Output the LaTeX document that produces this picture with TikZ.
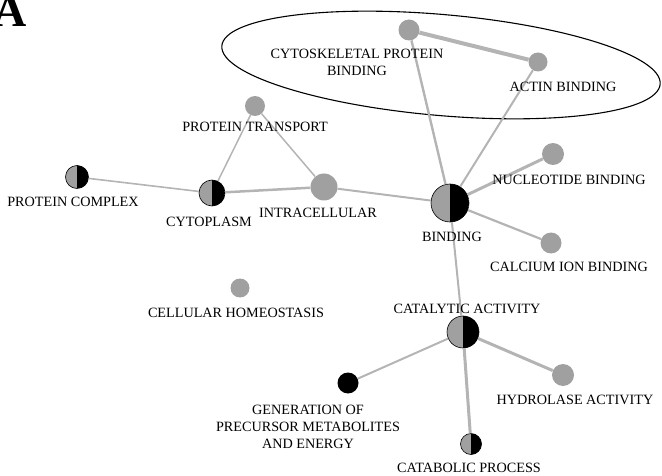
\documentclass[tikz,border=0pt]{standalone}
\usepackage{fontspec}
\setmainfont{Liberation Serif}
\usepackage{tikz}
\usepackage{xcolor}
\definecolor{termgray}{RGB}{160,160,160}
\definecolor{linkgray}{RGB}{180,180,180}

\begin{document}
\begin{tikzpicture}[x=1pt, y=-1pt,
        term/.style={circle, fill=termgray, inner sep=0pt, minimum size=#1},
        halfterm/.style={term=#1, draw=black, line width=0.6pt,
            path picture={\fill[black] (path picture bounding box.north) rectangle (path picture bounding box.south east);}},
        golabel/.style={font=\fontsize{14.2}{17}\selectfont, inner sep=0pt, align=center},
        link/.style={draw=linkgray, line width=#1}]
        \useasboundingbox (0,0) rectangle (662,476);
        % Panel letter
        \node[anchor=base east, inner sep=0pt, font=\fontsize{46}{46}\selectfont\bfseries] (panel) at (27,27) {A};
        % Cluster outline
        \draw[line width=1.1pt, rotate around={-5:(441,65)}] (441,65) ellipse [x radius=220pt, y radius=50.5pt];
        % GO terms
        \node[term=21] (cytosk) at (409,30) {};
        \node[term=19] (actin) at (538,62) {};
        \node[term=20] (transport) at (255,106) {};
        \node[halfterm=23] (complex) at (77,177) {};
        \node[halfterm=26] (cytoplasm) at (212,193) {};
        \node[term=27] (intracell) at (324,187) {};
        \node[halfterm=38] (binding) at (450,203) {};
        \node[term=22] (nucleotide) at (553,154) {};
        \node[term=21] (calcium) at (551,243) {};
        \node[term=19] (homeo) at (240,288) {};
        \node[halfterm=32] (catalytic) at (463,332) {};
        \node[term=21, fill=black] (generation) at (348,383) {};
        \node[term=22] (hydrolase) at (563,375) {};
        \node[halfterm=21] (catabolic) at (471,444) {};
        % Links between terms
        \foreach \a/\b/\w in {cytosk/actin/4, cytosk/binding/2.4, actin/binding/2,
                transport/cytoplasm/1.5, transport/intracell/1.5, complex/cytoplasm/1.6,
                cytoplasm/intracell/2.5, intracell/binding/2, binding/nucleotide/3,
                binding/calcium/2.2, binding/catalytic/2, catalytic/generation/2,
                catalytic/hydrolase/3, catalytic/catabolic/3} {
            \draw[link=\w] (\a) -- (\b);
        }
        % Term labels
        \node[golabel] (lcytosk) at (357,62) {CYTOSKELETAL PROTEIN\\BINDING};
        \node[golabel, anchor=base] (lactin) at (563,92) {ACTIN BINDING};
        \node[golabel, anchor=base] (ltransport) at (255,132) {PROTEIN TRANSPORT};
        \node[golabel, anchor=base] (lcomplex) at (73,207) {PROTEIN COMPLEX};
        \node[golabel, anchor=base] (lcytoplasm) at (209,227) {CYTOPLASM};
        \node[golabel, anchor=base] (lintracell) at (318,218) {INTRACELLULAR};
        \node[golabel, anchor=base] (lbinding) at (452,242) {BINDING};
        \node[golabel, anchor=base] (lnucleotide) at (569,185) {NUCLEOTIDE BINDING};
        \node[golabel, anchor=base] (lcalcium) at (569,272) {CALCIUM ION BINDING};
        \node[golabel, anchor=base] (lhomeo) at (236,317) {CELLULAR HOMEOSTASIS};
        \node[golabel, anchor=base] (lcatalytic) at (467,313) {CATALYTIC ACTIVITY};
        \node[golabel] (lgeneration) at (308,427) {GENERATION OF\\PRECURSOR METABOLITES\\AND ENERGY};
        \node[golabel, anchor=base] (lhydrolase) at (575,404) {HYDROLASE ACTIVITY};
        \node[golabel, anchor=base] (lcatabolic) at (469,472) {CATABOLIC PROCESS};
    \end{tikzpicture}
\end{document}
